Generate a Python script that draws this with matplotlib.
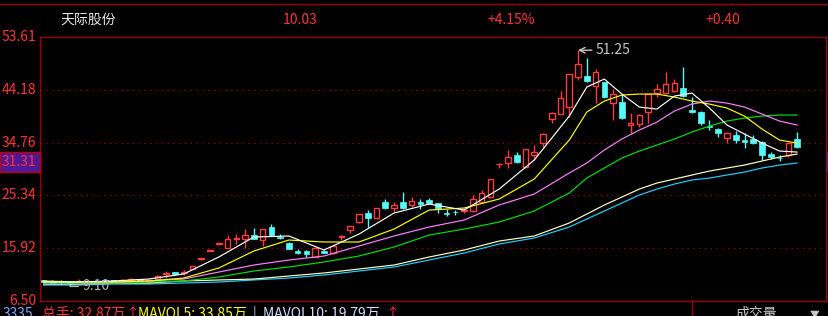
import matplotlib
matplotlib.use('Agg')
import matplotlib.pyplot as plt
from matplotlib.patches import Rectangle
from matplotlib.lines import Line2D
from matplotlib.transforms import blended_transform_factory

plt.rcParams['font.family'] = ['Noto Sans CJK SC', 'DejaVu Sans']

# ---------------- data ----------------
stock_name = '天际股份'
header_price = '10.03'
header_pct = '+4.15%'
header_chg = '+0.40'

y_tick_values = [53.61, 44.18, 34.76, 25.34, 15.92, 6.50]
grid_values = [44.18, 34.76, 25.34, 15.92]
marker_price = 31.31
high_label = 51.25
high_idx = 61
low_label = 9.10
low_idx = 3

opens = [10.20, 10.00, 10.00, 9.90, 10.00, 9.90, 10.10, 10.20, 10.20, 10.20,
         10.20, 10.40, 9.90, 10.50, 11.30, 11.60, 11.50, 12.25, 14.00, 15.45,
         16.70, 16.00, 17.60, 17.65, 18.20, 17.47, 19.63, 17.90, 16.93, 15.49,
         15.49, 14.41, 15.49, 15.13, 17.95, 19.09, 20.52, 22.14, 21.24, 24.12,
         23.04, 24.12, 23.58, 24.12, 24.48, 23.94, 22.20, 22.40, 22.60, 22.50,
         24.12, 25.02, 30.90, 31.13, 32.57, 30.41, 32.57, 34.73, 39.04, 39.94,
         41.20, 46.42, 46.60, 44.80, 45.52, 41.92, 42.10, 37.97, 38.14, 40.30,
         43.54, 43.54, 43.90, 44.44, 40.66, 40.30, 37.70, 37.25, 35.63, 36.17,
         35.27, 35.45, 34.91, 32.75, 32.10, 32.57, 35.45]
highs = [10.30, 10.30, 10.30, 10.00, 10.40, 10.20, 10.20, 10.50, 10.30, 10.50,
         10.60, 10.50, 10.30, 11.10, 11.90, 11.70, 12.10, 12.80, 14.20, 15.60,
         17.00, 18.20, 18.40, 19.30, 19.60, 19.40, 20.20, 18.50, 17.00, 15.85,
         15.60, 16.10, 15.60, 16.50, 18.30, 19.90, 22.00, 22.68, 23.10, 24.66,
         24.12, 25.92, 25.00, 24.66, 24.84, 24.00, 22.86, 22.68, 23.04, 25.38,
         26.28, 28.30, 31.20, 33.47, 33.11, 33.70, 34.37, 36.40, 40.20, 43.90,
         47.00, 51.25, 49.83, 47.85, 45.60, 44.26, 43.36, 40.12, 39.90, 43.40,
         45.16, 47.30, 46.06, 48.21, 42.82, 40.40, 38.86, 37.30, 36.60, 36.90,
         36.50, 36.17, 35.00, 33.10, 32.57, 34.80, 36.70]
lows = [9.80, 9.70, 9.60, 9.10, 9.90, 9.85, 9.90, 9.90, 10.00, 10.10,
        10.10, 10.20, 9.80, 10.40, 10.60, 11.30, 11.20, 12.20, 13.90, 15.40,
        16.60, 15.90, 16.75, 16.00, 17.50, 16.40, 18.10, 17.50, 15.70, 14.95,
        14.40, 14.30, 15.00, 14.95, 17.40, 18.70, 20.35, 19.63, 21.10, 23.00,
        22.32, 22.90, 23.20, 22.86, 23.80, 22.14, 21.60, 21.80, 22.14, 22.40,
        24.00, 24.90, 30.23, 30.23, 31.20, 30.30, 31.67, 34.00, 38.30, 39.80,
        39.40, 46.00, 45.60, 41.92, 42.70, 38.86, 39.00, 36.53, 37.60, 38.30,
        42.82, 43.40, 43.80, 42.90, 40.10, 37.96, 37.06, 35.80, 34.73, 34.73,
        33.80, 34.60, 31.67, 31.85, 31.50, 32.20, 33.80]
closes = [9.85, 9.80, 9.90, 9.70, 10.10, 10.05, 10.00, 10.15, 10.10, 10.30,
          10.35, 10.30, 10.20, 11.00, 11.40, 11.40, 11.60, 12.80, 14.10, 15.55,
          16.85, 17.65, 17.75, 18.20, 17.65, 19.27, 18.19, 17.80, 15.85, 15.13,
          14.95, 16.03, 15.13, 16.39, 18.05, 19.81, 21.96, 21.24, 23.04, 23.04,
          23.58, 23.04, 24.30, 23.76, 23.94, 23.04, 22.10, 22.30, 22.75, 24.66,
          25.74, 28.26, 31.00, 32.21, 31.31, 33.65, 33.11, 36.35, 40.12, 42.64,
          46.96, 48.75, 45.70, 47.32, 42.82, 43.36, 39.22, 38.32, 39.76, 43.36,
          44.26, 45.16, 45.34, 43.00, 40.30, 38.32, 37.55, 36.53, 36.53, 35.27,
          34.95, 34.73, 32.57, 32.21, 31.95, 34.73, 34.00]

# moving-average lines at these bar positions
ma_index = [0, 4, 8, 12, 16, 20, 24, 28, 32, 36, 40, 44, 48, 52, 56, 60,
            62, 64, 66, 68, 70, 72, 74, 76, 78, 80, 82, 84, 86]
ma_white = [9.89, 9.89, 10.07, 10.42, 11.32, 14.35, 17.92, 18.10, 15.60, 18.45,
            22.20, 23.80, 22.73, 26.48, 31.65, 39.50, 44.68, 46.10, 43.43, 41.11,
            40.75, 43.07, 43.61, 40.93, 37.90, 36.29, 34.69, 33.26, 33.08]
ma_yellow = [10.07, 9.89, 9.89, 10.07, 10.60, 12.39, 15.42, 17.38, 17.03, 17.03,
             19.34, 22.73, 23.09, 24.70, 28.26, 35.22, 40.22, 42.18, 43.25, 43.43,
             43.43, 42.89, 42.18, 41.64, 40.93, 39.50, 37.18, 35.22, 34.69]
ma_magenta = [9.89, 9.89, 9.89, 10.07, 10.42, 11.67, 12.92, 13.81, 14.53, 16.31,
              18.10, 19.70, 20.95, 23.63, 25.59, 29.34, 31.12, 33.44, 35.40, 37.01,
              38.43, 40.40, 41.64, 42.18, 41.82, 41.11, 39.86, 38.61, 37.90]
ma_green = [9.71, 9.71, 9.71, 9.89, 10.07, 10.78, 11.85, 12.57, 13.46, 14.53,
            16.13, 18.27, 19.34, 20.59, 22.56, 25.77, 28.44, 30.23, 32.01, 33.26,
            34.33, 35.40, 36.65, 37.72, 38.61, 39.15, 39.50, 39.68, 39.68]
ma_cream = [9.53, 9.53, 9.71, 9.71, 10.07, 10.25, 10.42, 10.96, 11.50, 12.21,
            12.92, 14.35, 15.60, 17.20, 18.10, 20.42, 22.02, 23.63, 25.05, 26.48,
            27.55, 28.26, 28.98, 29.69, 30.23, 30.76, 31.48, 32.19, 32.72]
ma_cyan = [9.35, 9.35, 9.53, 9.53, 9.71, 9.89, 10.25, 10.60, 11.14, 11.85,
           12.57, 13.81, 15.06, 16.67, 17.74, 19.70, 21.13, 22.56, 23.98, 25.41,
           26.48, 27.37, 28.09, 28.44, 28.98, 29.51, 30.23, 30.76, 31.12]

vol_total = '总手: 32.87万'
mavol5 = 'MAVOL5: 33.85万'
mavol10 = 'MAVOL10: 19.79万'
vol_axis_label = '3335'
vol_title = '成交量'

# ---------------- styling ----------------
W, H = 829, 316
RED = '#ff3333'
DARKRED = '#a00000'
UP = '#ff3c3c'
DOWN = '#54fcfc'
BG = '#000000'


def fx(px):
    return px / W


def fy(py):
    return 1 - py / H


fig = plt.figure(figsize=(W / 100, H / 100), dpi=100, facecolor=BG)
ax = fig.add_axes([fx(40), fy(301), fx(826) - fx(40), fy(37) - fy(301)])
ax.set_facecolor(BG)
n = len(closes)
ax.set_xlim(-0.41, (n - 1) + 3.3)
ax.set_ylim(y_tick_values[-1], y_tick_values[0])
ax.set_xticks([])
ax.set_yticks([])
for s in ax.spines.values():
    s.set_color(DARKRED)
    s.set_linewidth(1)

for g in grid_values:
    ax.axhline(g, color=DARKRED, lw=0.8, ls=(0, (1.2, 4.0)), zorder=0)

# candles
bw = 0.64
for i in range(n):
    o, h, l, c = opens[i], highs[i], lows[i], closes[i]
    top, bot = max(o, c), min(o, c)
    body_h = max(top - bot, 0.12)
    if c >= o:
        ax.vlines(i, top, h, color=UP, lw=1, zorder=2)
        ax.vlines(i, l, bot, color=UP, lw=1, zorder=2)
        ax.add_patch(Rectangle((i - bw / 2, bot), bw, body_h, facecolor=BG,
                               edgecolor=UP, lw=1, zorder=3))
    else:
        ax.vlines(i, l, h, color=DOWN, lw=1, zorder=2)
        ax.add_patch(Rectangle((i - bw / 2, bot), bw, body_h, facecolor=DOWN,
                               edgecolor=DOWN, lw=0.5, zorder=3))

# MA lines
for vals, col in [(ma_cyan, '#20d0ff'), (ma_cream, '#ffffc8'), (ma_green, '#00e000'),
                  (ma_magenta, '#ff80ff'), (ma_yellow, '#ffff00'), (ma_white, '#ffffff')]:
    ax.plot(ma_index, vals, color=col, lw=0.85, zorder=4)

# high / low markers
ax.annotate(f'{high_label:.2f}', xy=(high_idx, high_label), xytext=(13, 0),
            textcoords='offset points', color='#c8c8c8', fontsize=10, va='center',
            arrowprops=dict(arrowstyle='->', color='#c8c8c8', lw=1, shrinkA=1, shrinkB=0),
            zorder=6)
ax.annotate(f'{low_label:.2f}', xy=(low_idx, low_label), xytext=(9, 0),
            textcoords='offset points', color='#b0b0b0', fontsize=10, va='center',
            arrowprops=dict(arrowstyle='-', color='#b0b0b0', lw=1, shrinkA=1, shrinkB=0),
            zorder=6)

# y labels
tr = blended_transform_factory(ax.transAxes, ax.transData)
lab_x = -3.5 / (826 - 40)
for v in y_tick_values:
    ax.text(lab_x, v, f'{v:.2f}', transform=tr, ha='right', va='center',
            color=RED, fontsize=10, clip_on=False)

# current price marker box
ypx = 301 - (marker_price - y_tick_values[-1]) / (y_tick_values[0] - y_tick_values[-1]) * 264
fig.add_artist(Rectangle((fx(0), fy(ypx + 10)), fx(40), fy(ypx - 10) - fy(ypx + 10),
                         transform=fig.transFigure, facecolor='#4e1898', edgecolor='#c00000',
                         lw=1, zorder=5))
fig.add_artist(Rectangle((fx(827), fy(ypx + 10)), fx(2), fy(ypx - 10) - fy(ypx + 10),
                         transform=fig.transFigure, facecolor='#4e1898', edgecolor='none',
                         zorder=5))
fig.text(fx(36.5), fy(ypx), f'{marker_price:.2f}', ha='right', va='center',
         color=RED, fontsize=10, zorder=7)

# header
fig.add_artist(Line2D([0, 1], [fy(3.5), fy(3.5)], color=DARKRED, lw=1))
fig.text(fx(60), fy(20), stock_name, color='#e6e6e6', fontsize=10, va='center', ha='left')
fig.text(fx(300), fy(20), header_price, color=RED, fontsize=10, va='center', ha='center')
fig.text(fx(511), fy(20), header_pct, color=RED, fontsize=10, va='center', ha='center')
fig.text(fx(723), fy(20), header_chg, color=RED, fontsize=10, va='center', ha='center')

# volume panel header (partially visible)
fig.add_artist(Line2D([fx(692), fx(692)], [fy(301), 0], color=DARKRED, lw=1))
by = fy(314)
fig.text(fx(3), by, vol_axis_label, color='#7aa8ff', fontsize=10, va='center', ha='left')
fig.text(fx(42), by, vol_total, color=RED, fontsize=10, va='center', ha='left')
fig.text(fx(125), by, '↑', color=RED, fontsize=10, va='center', ha='left')
fig.text(fx(138), by, mavol5, color='#ffff00', fontsize=10, va='center', ha='left')
fig.text(fx(253), by, '|', color='#9fc0ff', fontsize=10, va='center', ha='left')
fig.text(fx(263), by, mavol10, color='#cfe0ff', fontsize=10, va='center', ha='left')
fig.text(fx(385), by, '↑', color=RED, fontsize=10, va='center', ha='left')
fig.text(fx(735), by, vol_title, color='#c8c8c8', fontsize=10, va='center', ha='left')
fig.text(fx(810), by, '▼', color='#c8c8c8', fontsize=7, va='center', ha='left')

fig.savefig('out.png', dpi=100, facecolor=BG)
